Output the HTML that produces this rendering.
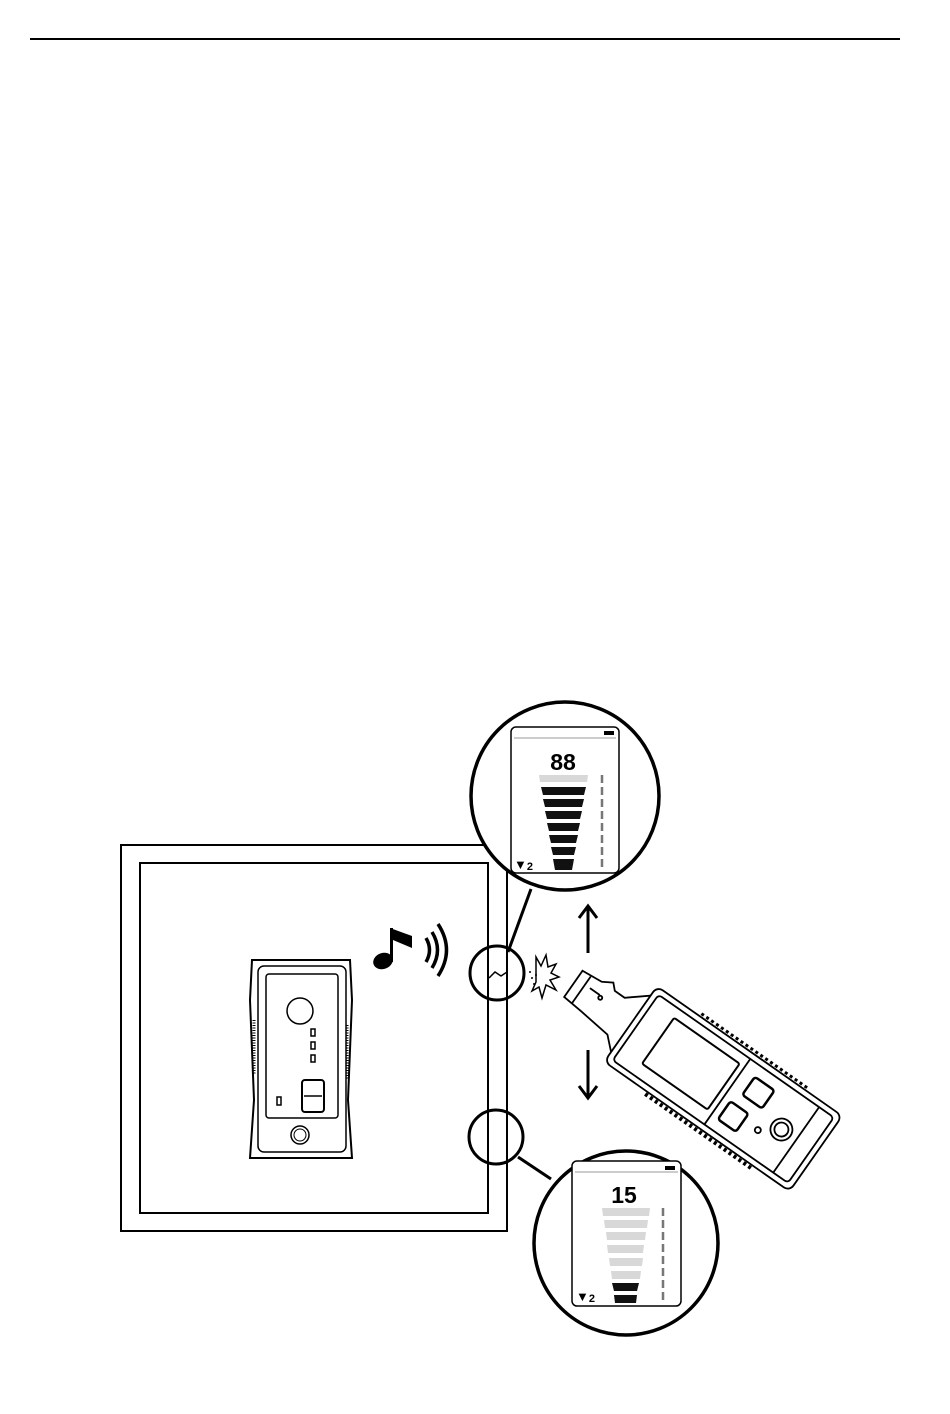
<!DOCTYPE html>
<html><head><meta charset="utf-8"><style>html,body{margin:0;padding:0;background:#fff}svg{display:block}</style></head>
<body>
<svg width="950" height="1414" viewBox="0 0 950 1414" xmlns="http://www.w3.org/2000/svg" font-family="Liberation Sans, sans-serif">
<line x1="30" y1="39" x2="900" y2="39" stroke="#000" stroke-width="2"/>
<!-- wall -->
<rect x="121" y="845" width="386" height="386" fill="none" stroke="#000" stroke-width="2"/>
<rect x="140" y="863" width="348" height="350" fill="none" stroke="#000" stroke-width="2"/>
<path d="M489 978 L495 972 L501 976 L507 972" fill="none" stroke="#000" stroke-width="1.5"/>
<!-- small circles -->
<circle cx="497" cy="973" r="27" fill="none" stroke="#000" stroke-width="3"/>
<circle cx="496" cy="1137" r="27" fill="none" stroke="#000" stroke-width="3"/>
<line x1="508" y1="952" x2="531" y2="889" stroke="#000" stroke-width="3"/>
<line x1="518" y1="1157" x2="551" y2="1179" stroke="#000" stroke-width="3"/>
<!-- top big circle -->
<circle cx="565" cy="796" r="94" fill="#fff" stroke="#000" stroke-width="3.5"/>
<rect x="511" y="727" width="108" height="146" rx="5" fill="#fff" stroke="#000" stroke-width="1.5"/>
<line x1="514" y1="738" x2="616" y2="738" stroke="#999" stroke-width="1"/>
<rect x="604" y="731" width="10" height="4" fill="#000"/>
<text x="563" y="770" font-size="23" font-weight="bold" text-anchor="middle">88</text>
<polygon points="539,775 588,775 587,782 540,782" fill="#d8d8d8"/>
<g fill="#111">
<polygon points="541,787 586,787 584,795 543,795"/>
<polygon points="543,799 584,799 582,807 545,807"/>
<polygon points="545,811 582,811 580,819 547,819"/>
<polygon points="547,823 580,823 578,831 549,831"/>
<polygon points="549,835 578,835 576,843 551,843"/>
<polygon points="551,847 576,847 574,855 553,855"/>
<polygon points="553,859 574,859 572,870 555,870"/>
</g>
<line x1="602" y1="775" x2="602" y2="870" stroke="#777" stroke-width="2.5" stroke-dasharray="8,4"/>
<text x="514" y="869" font-size="13" font-weight="bold">▼<tspan font-size="11" dy="1">2</tspan></text>
<!-- bottom big circle -->
<circle cx="626" cy="1243" r="92" fill="#fff" stroke="#000" stroke-width="3.5"/>
<rect x="572" y="1161" width="109" height="145" rx="5" fill="#fff" stroke="#000" stroke-width="1.5"/>
<line x1="575" y1="1172" x2="678" y2="1172" stroke="#999" stroke-width="1"/>
<rect x="665" y="1166" width="10" height="4" fill="#000"/>
<text x="624" y="1203" font-size="23" font-weight="bold" text-anchor="middle">15</text>
<g fill="#d8d8d8">
<polygon points="602,1208 650,1208 649,1216 603,1216"/>
<polygon points="604,1220 648,1220 647,1228 605,1228"/>
<polygon points="606,1232 646,1232 645,1240 607,1240"/>
<polygon points="607,1245 644,1245 643,1253 608,1253"/>
<polygon points="609,1258 643,1258 642,1266 610,1266"/>
<polygon points="611,1271 641,1271 640,1279 612,1279"/>
</g>
<polygon points="612,1283 639,1283 637,1291 614,1291" fill="#111"/>
<polygon points="614,1295 637,1295 636,1303 615,1303" fill="#111"/>
<line x1="663" y1="1208" x2="663" y2="1303" stroke="#777" stroke-width="2.5" stroke-dasharray="8,4"/>
<text x="576" y="1301" font-size="13" font-weight="bold">▼<tspan font-size="11" dy="1">2</tspan></text>
<!-- arrows -->
<g stroke="#000" stroke-width="3" fill="none">
<line x1="588" y1="953" x2="588" y2="908"/><polyline points="579,918 588,906 597,918"/>
<line x1="588" y1="1050" x2="588" y2="1096"/><polyline points="579,1086 588,1098 597,1086"/>
</g>
<!-- starburst -->
<polygon points="536,957 541,966 546,955 548,967 556,964 551,973 559,977 550,980 556,990 546,985 542,998 539,987 532,991 536,982" fill="#fff" stroke="#000" stroke-width="1.5"/>
<g fill="#000"><circle cx="530" cy="972" r="1"/><circle cx="532" cy="978" r="1"/><circle cx="536" cy="975" r="1"/><circle cx="534" cy="984" r="1"/></g>
<!-- music and waves -->
<ellipse cx="383" cy="961" rx="10" ry="8" fill="#000" transform="rotate(-20 383 961)"/>
<rect x="390" y="928" width="3" height="34" fill="#000"/>
<polygon points="390,928 412,936 412,948 393,940" fill="#000"/>
<g fill="none" stroke="#000" stroke-width="3.5">
<path d="M426 938 Q433 950 426 962"/>
<path d="M432 932 Q443 950 432 968"/>
<path d="M438 924 Q455 950 438 976"/>
</g>
<!-- receiver -->
<g fill="none" stroke="#000">
<path d="M252 960 L350 960 L352 1000 L348 1100 L352 1158 L250 1158 L254 1100 L250 1000 Z" stroke-width="2"/>
<rect x="258" y="966" width="88" height="186" rx="6" stroke-width="1.5"/>
<rect x="266" y="974" width="72" height="144" rx="3" stroke-width="1.5"/>
<circle cx="300" cy="1011" r="13" stroke-width="1.5"/>
<rect x="311" y="1029" width="4" height="7" stroke-width="1.5"/>
<rect x="311" y="1042" width="4" height="7" stroke-width="1.5"/>
<rect x="311" y="1055" width="4" height="7" stroke-width="1.5"/>
<rect x="302" y="1080" width="22" height="32" rx="3" stroke-width="2"/>
<line x1="304" y1="1096" x2="322" y2="1096" stroke-width="1.5"/>
<rect x="277" y="1097" width="4" height="8" stroke-width="1.5"/>
<circle cx="300" cy="1135" r="9" stroke-width="1.5"/><circle cx="300" cy="1135" r="6" stroke-width="1"/>
<line x1="254" y1="1020" x2="254" y2="1075" stroke-width="3" stroke-dasharray="1,1.5"/>
<line x1="347" y1="1025" x2="347" y2="1080" stroke-width="3" stroke-dasharray="1,1.5"/>
</g>
<!-- tester device -->
<g transform="translate(575,985) rotate(35)" fill="#fff" stroke="#000" stroke-width="1.8">
<path d="M-2 -16 L20 -18 L30 -24 L36 -18 L48 -18 L72 -38 L72 38 L55 22 L20 18 L-2 16 Z"/>
<line x1="8" y1="-16" x2="8" y2="17"/>
<line x1="14" y1="-6" x2="26" y2="-6"/>
<circle cx="28" cy="-4" r="2"/>
<rect x="68" y="-46" width="226" height="92" rx="7"/>
<rect x="74" y="-40" width="214" height="80" rx="4"/>
<rect x="100" y="-30" width="80" height="56" rx="2" stroke-width="2"/>
<line x1="186" y1="-40" x2="186" y2="40"/>
<line x1="270" y1="-40" x2="270" y2="40"/>
<rect x="200" y="-28" width="24" height="22" rx="3" stroke-width="2.5"/>
<rect x="194" y="6" width="22" height="22" rx="3" stroke-width="2.5"/>
<circle cx="233" cy="14" r="3"/>
<circle cx="252" cy="0" r="11"/><circle cx="252" cy="0" r="7"/>
<line x1="120" y1="49" x2="250" y2="49" stroke-width="4" stroke-dasharray="3,3"/>
<line x1="120" y1="-49" x2="250" y2="-49" stroke-width="3" stroke-dasharray="3,3"/>
</g>
</svg>
</body></html>
